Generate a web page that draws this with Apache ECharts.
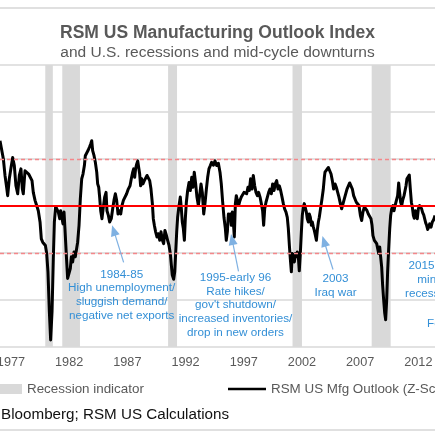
<!DOCTYPE html>
<html>
<head>
<meta charset="utf-8">
<script src="https://cdn.jsdelivr.net/npm/echarts@6.0.0/dist/echarts.min.js"></script>
<style>
  html, body { margin: 0; padding: 0; background: #fff; }
  #chart { width: 435px; height: 435px; }
</style>
</head>
<body>
<div id="chart"></div>
<script>
// decimal year of each reading and the Z-score
let dates = [
  1976.06, 1976.20, 1976.35, 1976.49, 1976.63, 1976.72, 1976.86, 1977.01, 1977.15, 1977.29,
  1977.43, 1977.58, 1977.72, 1977.86, 1977.98, 1978.06, 1978.21, 1978.35, 1978.52, 1978.69,
  1978.81, 1978.92, 1979.07, 1979.21, 1979.35, 1979.50, 1979.61, 1979.73, 1979.84, 1979.96,
  1980.07, 1980.18, 1980.30, 1980.41, 1980.53, 1980.64, 1980.73, 1980.84, 1980.96, 1981.07,
  1981.19, 1981.27, 1981.39, 1981.47, 1981.56, 1981.64, 1981.76, 1981.87, 1981.99, 1982.10,
  1982.19, 1982.30, 1982.42, 1982.53, 1982.62, 1982.73, 1982.85, 1982.96, 1983.08, 1983.19,
  1983.31, 1983.39, 1983.51, 1983.62, 1983.74, 1983.85, 1983.94, 1984.02, 1984.14, 1984.25,
  1984.37, 1984.45, 1984.54, 1984.62, 1984.71, 1984.82, 1984.94, 1985.05, 1985.17, 1985.25,
  1985.37, 1985.48, 1985.62, 1985.74, 1985.85, 1985.97, 1986.08, 1986.20, 1986.31, 1986.43,
  1986.54, 1986.66, 1986.80, 1986.94, 1987.08, 1987.23, 1987.34, 1987.46, 1987.54, 1987.63,
  1987.71, 1987.80, 1987.89, 1987.97, 1988.06, 1988.14, 1988.23, 1988.34, 1988.46, 1988.57,
  1988.69, 1988.80, 1988.92, 1989.03, 1989.15, 1989.23, 1989.32, 1989.43, 1989.55, 1989.66,
  1989.78, 1989.89, 1990.01, 1990.12, 1990.23, 1990.35, 1990.46, 1990.58, 1990.69, 1990.78,
  1990.86, 1990.98, 1991.07, 1991.15, 1991.24, 1991.32, 1991.44, 1991.55, 1991.64, 1991.72,
  1991.81, 1991.90, 1991.98, 1992.07, 1992.18, 1992.30, 1992.41, 1992.53, 1992.64, 1992.75,
  1992.87, 1992.98, 1993.10, 1993.21, 1993.33, 1993.44, 1993.56, 1993.67, 1993.79, 1993.90,
  1994.01, 1994.13, 1994.24, 1994.39, 1994.53, 1994.67, 1994.82, 1994.96, 1995.07, 1995.19,
  1995.30, 1995.42, 1995.50, 1995.59, 1995.68, 1995.76, 1995.85, 1995.93, 1996.02, 1996.10,
  1996.19, 1996.28, 1996.36, 1996.45, 1996.56, 1996.68, 1996.79, 1996.91, 1997.02, 1997.14,
  1997.25, 1997.36, 1997.48, 1997.59, 1997.71, 1997.82, 1997.94, 1998.05, 1998.17, 1998.28,
  1998.40, 1998.51, 1998.62, 1998.71, 1998.80, 1998.91, 1999.03, 1999.14, 1999.25, 1999.37,
  1999.48, 1999.60, 1999.71, 1999.83, 1999.94, 2000.06, 2000.17, 2000.29, 2000.40, 2000.51,
  2000.63, 2000.74, 2000.83, 2000.92, 2001.00, 2001.09, 2001.17, 2001.26, 2001.35, 2001.43,
  2001.52, 2001.60, 2001.69, 2001.77, 2001.86, 2001.95, 2002.03, 2002.12, 2002.20, 2002.29,
  2002.38, 2002.46, 2002.55, 2002.63, 2002.72, 2002.81, 2002.89, 2002.98, 2003.06, 2003.15,
  2003.24, 2003.32, 2003.41, 2003.49, 2003.60, 2003.72, 2003.83, 2003.92, 2003.98, 2004.12,
  2004.27, 2004.38, 2004.50, 2004.61, 2004.72, 2004.84, 2004.95, 2005.07, 2005.18, 2005.30,
  2005.41, 2005.53, 2005.64, 2005.76, 2005.87, 2005.98, 2006.10, 2006.21, 2006.33, 2006.44,
  2006.56, 2006.67, 2006.79, 2006.90, 2007.02, 2007.13, 2007.24, 2007.36, 2007.47, 2007.59,
  2007.70, 2007.82, 2007.93, 2008.02, 2008.10, 2008.22, 2008.33, 2008.42, 2008.50, 2008.59,
  2008.68, 2008.76, 2008.85, 2008.93, 2009.02, 2009.11, 2009.19, 2009.28, 2009.36, 2009.45,
  2009.54, 2009.62, 2009.71, 2009.82, 2009.91, 2010.00, 2010.11, 2010.22, 2010.31, 2010.39,
  2010.48, 2010.57, 2010.65, 2010.77, 2010.85, 2010.94, 2011.02, 2011.11, 2011.22, 2011.31,
  2011.40, 2011.48, 2011.57, 2011.65, 2011.74, 2011.83, 2011.91, 2012.00, 2012.11, 2012.20,
  2012.28, 2012.37, 2012.46, 2012.54, 2012.63, 2012.71, 2012.80, 2012.89, 2012.97, 2013.09,
  2013.20, 2013.32, 2013.43
];
let zScore = [
  1.39, 1.42, 1.00, 0.65, 0.40, 0.22, 0.58, 0.82, 1.03, 0.86,
  0.43, 0.26, 0.65, 0.79, 0.36, 0.26, 0.75, 0.79, 0.68, 0.65,
  0.54, 0.29, 0.12, 0.01, -0.10, -0.34, -0.70, -0.77, -0.73, -0.84,
  -1.01, -1.40, -2.25, -2.85, -2.25, -1.12, -0.34, -0.01, 0.01, -0.13,
  -0.27, -0.10, -0.12, -0.38, -0.13, -0.48, -1.05, -1.54, -1.51, -1.33,
  -1.08, -1.19, -0.98, -1.08, -0.94, -0.77, -0.41, 0.15, 0.58, 0.68,
  0.86, 1.07, 1.11, 1.18, 1.25, 1.32, 1.39, 1.18, 1.07, 0.93,
  0.72, 0.47, 0.40, 0.19, -0.10, -0.27, -0.02, 0.19, 0.29, -0.10,
  -0.20, -0.34, -0.27, -0.06, 0.12, 0.26, 0.12, -0.17, -0.10, -0.17,
  0.01, 0.12, 0.08, 0.26, 0.36, 0.43, 0.58, 0.72, 0.79, 0.61,
  0.79, 0.89, 0.96, 1.00, 0.68, 0.43, 0.58, 0.47, 0.54, 0.58,
  0.65, 0.66, 0.54, 0.36, 0.05, -0.27, -0.41, -0.55, -0.66, -0.59,
  -0.73, -0.55, -0.73, -0.80, -0.52, -0.62, -0.73, -0.84, -1.01, -1.26,
  -1.47, -1.56, -1.40, -1.01, -0.55, -0.24, 0.01, 0.19, -0.06, -0.34,
  -0.48, -0.73, -0.27, 0.08, 0.33, 0.50, 0.33, 0.61, 0.40, 0.72,
  0.47, 0.19, 0.01, 0.22, 0.47, 0.29, -0.17, 0.05, 0.36, 0.61,
  0.79, 0.86, 0.93, 0.87, 0.96, 0.86, 0.91, 0.72, 0.47, 0.08,
  -0.24, -0.48, -0.73, -0.55, -0.17, -0.27, -0.17, -0.41, -0.13, -0.31,
  -0.66, 0.05, 0.22, 0.26, 0.01, 0.12, 0.19, 0.22, 0.29, 0.33,
  0.26, 0.40, 0.33, 0.58, 0.36, 0.65, 0.43, 0.29, 0.22, 0.29,
  0.19, 0.05, -0.10, -0.41, -0.06, 0.08, 0.19, 0.29, 0.36, 0.26,
  0.47, 0.33, 0.47, 0.54, 0.36, 0.43, 0.33, 0.19, 0.05, -0.06,
  -0.13, -0.24, -0.48, -0.84, -1.12, -1.40, -1.01, -1.08, -1.19, -1.01,
  -1.08, -0.98, -1.08, -1.38, -1.01, -0.55, -0.20, -0.02, 0.05, 0.01,
  -0.13, -0.27, -0.34, -0.17, -0.24, -0.41, -0.34, -0.45, -0.52, -0.62,
  -0.73, -0.52, -0.34, -0.24, -0.05, 0.15, 0.35, 0.60, 0.72, 0.75,
  0.82, 0.84, 0.68, 0.54, 0.36, 0.47, 0.40, 0.29, 0.19, 0.05,
  -0.06, 0.05, 0.15, 0.19, 0.36, 0.40, 0.49, 0.51, 0.36, 0.22,
  0.19, 0.08, 0.05, 0.01, -0.20, -0.31, -0.13, -0.02, 0.01, -0.10,
  -0.17, -0.13, -0.27, -0.41, -0.63, -0.73, -0.70, -0.80, -0.84, -1.01,
  -0.87, -1.08, -1.30, -1.68, -2.00, -2.28, -2.42, -2.00, -1.40, -0.91,
  -0.48, -0.20, -0.06, 0.01, -0.10, 0.01, 0.05, 0.22, 0.49, 0.29,
  0.08, 0.01, 0.12, 0.22, 0.19, 0.43, 0.58, 0.54, 0.66, 0.36,
  0.08, -0.02, -0.20, -0.26, -0.10, -0.17, -0.27, -0.06, 0.01, 0.05,
  -0.06, -0.14, -0.19, -0.27, -0.36, -0.41, -0.50, -0.45, -0.38, -0.45,
  -0.34, -0.29, -0.20
];
let recessionStart = [1979.95, 1981.41, 1990.50, 2001.19, 2007.99];
let recessionEnd = [1980.60, 1982.93, 1991.27, 2002.00, 2009.62];
let tickYears = [1977, 1982, 1987, 1992, 1997, 2002, 2007, 2012];
let bandLevels = [1, 0, -1];
let arrowTails = [[1986.68, -1.20], [1996.55, -1.39], [2004.67, -1.35]];
let arrowHeads = [[1985.83, -0.52], [1996.00, -0.71], [2003.90, -0.75]];

let FONT = "'Liberation Sans', Arial, sans-serif";
let GREY = '#595959';
let BLUE = '#338fd6';

let chart = echarts.init(document.getElementById('chart'));

let lineData = dates.map((d, i) => [d, zScore[i]]);
let recessionAreas = recessionStart.map((s, i) => [{ xAxis: s }, { xAxis: recessionEnd[i] }]);
let bandLines = bandLevels.map(v => ({
  yAxis: v,
  lineStyle: v === 0
    ? { color: '#ff0000', width: 2.2, type: 'solid' }
    : { color: '#f4878a', width: 1.4, type: [4, 3] }
}));
let arrowLines = arrowTails.map((t, i) => [{ coord: t }, { coord: arrowHeads[i] }]);

// annotation text blocks sit above the plot
let note = (text, x, y, lh, align) => ({
  type: 'text',
  silent: true,
  z: 100,
  style: {
    text: text, x: x, y: y,
    align: align || 'center', textAlign: align || 'center',
    verticalAlign: 'top', textVerticalAlign: 'top',
    fontSize: 11.7, fontFamily: FONT, lineHeight: lh,
    fill: BLUE
  }
});

let option = {
  animation: false,
  backgroundColor: '#fff',
  title: {
    text: 'RSM US Manufacturing Outlook Index',
    subtext: 'and U.S. recessions and mid-cycle downturns',
    left: 'center',
    top: 23,
    padding: 0,
    itemGap: 1,
    textStyle: { color: GREY, fontSize: 17.5, fontWeight: 'bold', fontFamily: FONT, lineHeight: 20 },
    subtextStyle: { color: GREY, fontSize: 15.5, fontFamily: FONT, lineHeight: 18 }
  },
  legend: [
    {
      data: [{ name: 'Recession indicator', itemStyle: { color: '#d9d9d9' } }],
      left: -8, top: 381, padding: 0,
      icon: 'rect', itemWidth: 30, itemHeight: 10,
      selectedMode: false,
      textStyle: { color: GREY, fontSize: 13.4, fontFamily: FONT, lineHeight: 16 }
    },
    {
      data: [{ name: 'RSM US Mfg Outlook (Z-Score)', itemStyle: { color: '#000' } }],
      left: 228, top: 381, padding: 0,
      icon: 'rect', itemWidth: 38, itemHeight: 2.5,
      selectedMode: false,
      textStyle: { color: GREY, fontSize: 13.4, fontFamily: FONT, lineHeight: 16 }
    }
  ],
  grid: { left: 0, right: 0, top: 65, height: 282, containLabel: false, outerBoundsMode: 'none' },
  xAxis: {
    type: 'value',
    min: 1976.06,
    max: 2013.43,
    axisLine: { show: true, lineStyle: { color: '#d9d9d9', width: 1.5 } },
    axisTick: { show: false },
    splitLine: { show: false },
    axisLabel: {
      customValues: tickYears,
      formatter: v => String(Math.round(v)),
      color: GREY, fontSize: 12.7, fontFamily: FONT, margin: 9
    }
  },
  yAxis: {
    type: 'value',
    min: -3, max: 3, interval: 1,
    axisLine: { show: false },
    axisTick: { show: false },
    axisLabel: { show: false },
    splitLine: { show: true, lineStyle: { color: '#d9d9d9', width: 1.5 } }
  },
  series: [
    {
      name: 'Recession indicator',
      type: 'line',
      data: [],
      z: 1,
      itemStyle: { color: '#d9d9d9' },
      lineStyle: { color: '#d9d9d9' },
      markArea: {
        silent: true,
        itemStyle: { color: '#d9d9d9' },
        data: recessionAreas
      }
    },
    {
      name: 'bands',
      type: 'line',
      data: [],
      z: 2,
      markLine: {
        silent: true,
        symbol: ['none', 'none'],
        label: { show: false },
        data: bandLines
      }
    },
    {
      name: 'RSM US Mfg Outlook (Z-Score)',
      type: 'line',
      data: lineData,
      z: 3,
      showSymbol: false,
      symbol: 'none',
      itemStyle: { color: '#000' },
      lineStyle: { color: '#000', width: 3, join: 'round' },
      markLine: {
        silent: true,
        symbol: ['none', 'triangle'],
        symbolSize: [9, 11],
        label: { show: false },
        lineStyle: { color: '#7fb1e2', width: 1.2, type: 'solid' },
        data: arrowLines
      }
    }
  ],
  graphic: [
    { type: 'line', silent: true, shape: { x1: 0, y1: 8, x2: 435, y2: 8 }, style: { stroke: '#e0e0e0', lineWidth: 2 } },
    { type: 'line', silent: true, shape: { x1: 0, y1: 430, x2: 435, y2: 430 }, style: { stroke: '#e0e0e0', lineWidth: 2 } },
    {
      type: 'text', silent: true,
      style: {
        text: 'Source: Bloomberg; RSM US Calculations', x: 229, y: 415,
        align: 'right', textAlign: 'right', verticalAlign: 'middle', textVerticalAlign: 'middle',
        fontSize: 15.2, fontFamily: FONT, fill: '#111'
      }
    },
    note('1984-85\nHigh unemployment/\nsluggish demand/\nnegative net exports', 121.7, 267.6, 13.7),
    note('1995-early 96\nRate hikes/\ngov\'t shutdown/\nincreased inventories/\ndrop in new orders', 235.5, 271.2, 13.6),
    note('2003\nIraq war', 335.5, 271.1, 14.4),
    note('2015-16\nmini-\nrecession', 430, 259.2, 13.7),
    note('Fed rate hikes/', 427, 316.5, 13.7, 'left')
  ]
};

chart.setOption(option);
</script>
</body>
</html>
